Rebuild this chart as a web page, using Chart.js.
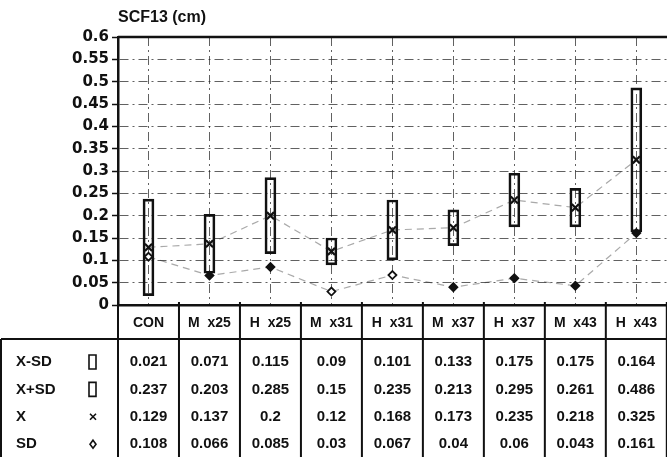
<!DOCTYPE html>
<html>
<head>
<meta charset="utf-8">
<script src="https://cdn.jsdelivr.net/npm/chart.js@4"></script>
<style>
  html, body { margin: 0; padding: 0; overflow: hidden; background: #fff; }
  #wrap { width: 674px; height: 457px; }
</style>
</head>
<body>
<div id="wrap"><canvas id="scfChart"></canvas></div>
<script>
const categories = ['CON', 'M  x25', 'H  x25', 'M  x31', 'H  x31', 'M  x37', 'H  x37', 'M  x43', 'H  x43'];
const lowValues = [0.021, 0.071, 0.115, 0.09, 0.101, 0.133, 0.175, 0.175, 0.164];   // X-SD
const highValues = [0.237, 0.203, 0.285, 0.15, 0.235, 0.213, 0.295, 0.261, 0.486];  // X+SD
const meanValues = [0.129, 0.137, 0.2, 0.12, 0.168, 0.173, 0.235, 0.218, 0.325];    // X
const sdValues = [0.108, 0.066, 0.085, 0.03, 0.067, 0.04, 0.06, 0.043, 0.161];      // SD
const rowLabels = ['X-SD', 'X+SD', 'X', 'SD'];
const yTicks = [0, 0.05, 0.1, 0.15, 0.2, 0.25, 0.3, 0.35, 0.4, 0.45, 0.5, 0.55, 0.6];

const tableRows = [lowValues, highValues, meanValues, sdValues];

// draws the title, top frame line and the data table under the plot
const tablePlugin = {
    id: 'tablePlugin',
    afterDraw(chart) {
        const { ctx, chartArea: a } = chart;
        const step = (a.right - a.left) / categories.length;
        const headBottom = a.bottom + 34;
        const H = chart.height;

        ctx.save();
        ctx.fillStyle = '#111';
        ctx.strokeStyle = '#111';

        // title
        ctx.font = 'bold 16px "Liberation Sans", Arial, sans-serif';
        ctx.textAlign = 'left';
        ctx.textBaseline = 'middle';
        ctx.fillText('SCF13 (cm)', a.left, 18);

        // top frame
        ctx.lineWidth = 2.5;
        ctx.beginPath();
        ctx.moveTo(a.left, a.top);
        ctx.lineTo(chart.width, a.top);
        ctx.stroke();

        // table grid
        ctx.lineWidth = 2;
        ctx.beginPath();
        ctx.moveTo(1, headBottom);
        ctx.lineTo(chart.width, headBottom);
        ctx.moveTo(1, headBottom);
        ctx.lineTo(1, H);
        for (let k = 0; k <= categories.length; k++) {
            const xx = a.left + k * step;
            ctx.moveTo(xx, a.bottom - 3);
            ctx.lineTo(xx, H);
        }
        ctx.stroke();

        // header
        ctx.font = 'bold 14px "Liberation Sans", Arial, sans-serif';
        ctx.textAlign = 'center';
        categories.forEach((c, i) => {
            ctx.fillText(c, a.left + (i + 0.5) * step, a.bottom + 18);
        });

        // rows
        ctx.font = 'bold 15px "Liberation Sans", Arial, sans-serif';
        rowLabels.forEach((lab, r) => {
            const yy = headBottom + 23 + r * 27.4;
            ctx.textAlign = 'left';
            ctx.fillText(lab, 16, yy);
            // legend symbol
            ctx.lineWidth = 1.6;
            ctx.beginPath();
            if (r < 2) {
                ctx.rect(89, yy - 7, 7, 14);
            } else if (r === 2) {
                ctx.moveTo(90, yy - 3); ctx.lineTo(96, yy + 3);
                ctx.moveTo(96, yy - 3); ctx.lineTo(90, yy + 3);
            } else {
                ctx.moveTo(93, yy - 4); ctx.lineTo(96, yy);
                ctx.lineTo(93, yy + 4); ctx.lineTo(90, yy); ctx.closePath();
            }
            ctx.stroke();
            ctx.textAlign = 'center';
            tableRows[r].forEach((v, i) => {
                ctx.fillText(String(v), a.left + (i + 0.5) * step, yy);
            });
        });
        ctx.restore();
    }
};

const gridDash = [9, 4, 2, 4];

new Chart(document.getElementById('scfChart'), {
    type: 'bar',
    data: {
        labels: categories,
        datasets: [
            {
                type: 'line',
                label: 'X',
                data: meanValues,
                borderColor: 'rgba(40,40,40,0.4)',
                borderWidth: 1.2,
                borderDash: [7, 5],
                pointStyle: 'crossRot',
                pointRadius: 5,
                pointBorderWidth: 2.2,
                pointBorderColor: '#111',
                pointBackgroundColor: '#111',
                order: 1
            },
            {
                type: 'line',
                label: 'SD',
                data: sdValues,
                borderColor: 'rgba(40,40,40,0.4)',
                borderWidth: 1.2,
                borderDash: [7, 5],
                pointStyle: 'rectRot',
                pointRadius: 4,
                pointBorderWidth: 1.8,
                pointBorderColor: '#111',
                pointBackgroundColor: ['#fff', '#111', '#111', '#fff', '#fff', '#111', '#111', '#111', '#111'],
                order: 2
            },
            {
                label: 'X-SD / X+SD',
                data: lowValues.map((l, i) => [l, highValues[i]]),
                backgroundColor: 'rgba(255,255,255,0)',
                borderColor: '#111',
                borderWidth: 2,
                borderSkipped: false,
                barThickness: 11,
                order: 3
            }
        ]
    },
    options: {
        responsive: true,
        maintainAspectRatio: false,
        animation: false,
        layout: {
            padding: { top: 37, bottom: 152, left: 0, right: 4 }
        },
        plugins: {
            legend: { display: false },
            tooltip: { enabled: false }
        },
        scales: {
            x: {
                grid: {
                    offset: false,
                    drawTicks: false,
                    color: 'rgba(30,30,30,0.7)'
                },
                border: { display: true, color: '#111', width: 2.5, dash: gridDash },
                ticks: { display: false },
                afterFit: (s) => { s.height = 0; }
            },
            y: {
                min: 0,
                max: 0.6,
                afterBuildTicks: (s) => { s.ticks = yTicks.map(v => ({ value: v })); },
                afterFit: (s) => { s.width = 118; },
                grid: {
                    color: 'rgba(30,30,30,0.7)',
                    tickColor: '#111',
                    tickLength: 6,
                    tickWidth: 1.5
                },
                border: { display: true, color: '#111', width: 2.5, dash: gridDash },
                ticks: {
                    color: '#111',
                    padding: 3,
                    font: { family: '"DejaVu Sans", sans-serif', size: 15, weight: 'bold' },
                    callback: (v) => String(Number(v.toFixed(2)))
                }
            }
        }
    },
    plugins: [tablePlugin]
});
</script>
</body>
</html>
